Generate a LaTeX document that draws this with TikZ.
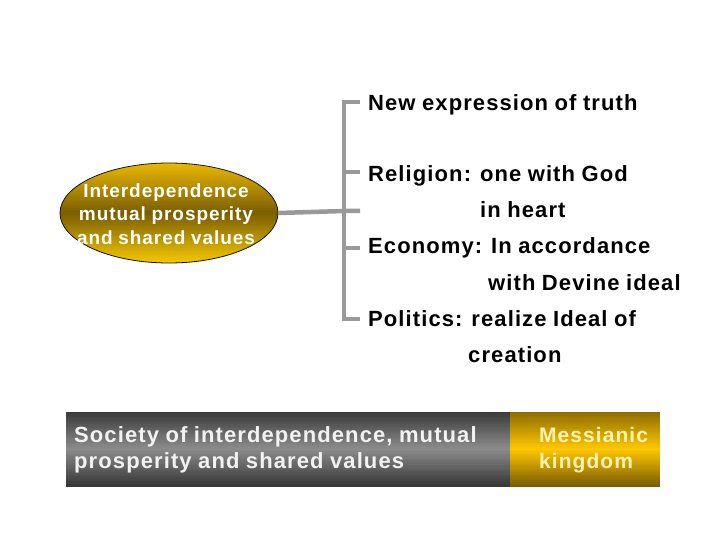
\documentclass[tikz,border=0pt]{standalone}
\usepackage{fontspec}
\setmainfont{Liberation Sans}[LetterSpace=5,WordSpace=0.9]
\usetikzlibrary{shapes.geometric}
\definecolor{conngray}{HTML}{999999}
\definecolor{goldtop}{HTML}{EAB800}
\definecolor{goldmid}{HTML}{7A5E00}
\definecolor{goldbot}{HTML}{F4C800}
\definecolor{bargraytop}{HTML}{3A3A3A}
\definecolor{bargraymid}{HTML}{8C8C8C}
\definecolor{bargraybot}{HTML}{363636}
\definecolor{bargoldtop}{HTML}{8C6C00}
\definecolor{bargoldmid}{HTML}{FFC800}
\definecolor{bargoldbot}{HTML}{7A5C00}
\definecolor{cream}{HTML}{FFF2B0}
\newcommand{\vgradrect}[7]{%
  \foreach \k in {0,...,59}{%
    \pgfmathsetmacro{\ya}{#2+(#4-#2)*\k/60}%
    \pgfmathsetmacro{\yb}{#2+(#4-#2)*(\k+1)/60+0.6}%
    \pgfmathtruncatemacro{\pp}{\k<30 ? 100*(\k+0.5)/30 : 100*(\k+0.5-30)/30}%
    \ifnum\k<30 \colorlet{gtmp}{#6!\pp!#5}\else\colorlet{gtmp}{#7!\pp!#6}\fi
    \fill[gtmp] (#1,\ya) rectangle (#3,\yb);
  }}
\tikzset{
  conn/.style={draw=conngray, line width=4.5pt, line cap=butt},
  itemtxt/.style={anchor=base west, inner sep=0pt, font=\fontsize{22}{26}\selectfont\bfseries, text=black},
  elltxt/.style={anchor=base, inner sep=0pt, font=\fontsize{19}{23}\selectfont\bfseries, text=white},
  bartxt/.style={anchor=base west, inner sep=0pt, font=\fontsize{22}{26}\selectfont\bfseries, text=white!95!black},
  kingtxt/.style={anchor=base west, inner sep=0pt, font=\fontsize{21}{25}\selectfont\bfseries, text=cream},
}
\begin{document}
\begin{tikzpicture}[x=1pt,y=-1pt]
\useasboundingbox (0,0) rectangle (720,540);
% ellipse
\begin{scope}
  \clip (169,213) ellipse [x radius=109, y radius=50];
  \vgradrect{58}{163}{280}{263}{goldtop}{goldmid}{goldbot}
\end{scope}
\node[ellipse, draw=black!80!goldmid, line width=0.8pt, minimum width=218pt, minimum height=100pt, inner sep=0pt] (ell) at (169,213) {};
\node[elltxt] (el1) at (166,197) {Interdependence};
\node[elltxt] (el2) at (166,221) {mutual prosperity};
\node[elltxt] (el3) at (166,244) {and shared values};
% bracket
\coordinate (s1) at (344,102); \coordinate (e1) at (360,102);
\coordinate (s2) at (344,172); \coordinate (e2) at (360,172);
\coordinate (s3) at (344,211); \coordinate (e3) at (360,211);
\coordinate (s4) at (344,248); \coordinate (e4) at (360,248);
\coordinate (s5) at (344,319); \coordinate (e5) at (360,319);
\draw[conn] (e1) -- (s1) -- (s5) -- (e5);
\draw[conn] (s2) -- (e2);
\draw[conn] (s4) -- (e4);
\draw[conn] (ell.east) -- (s3) -- (e3);
% texts
\node[itemtxt] (new) at (368,111) {New expression of truth};
\node[itemtxt] (rel1) at (368,182) {Religion: one with God};
\node[itemtxt] (rel2) at (480,218) {in heart};
\node[itemtxt] (eco1) at (368,254) {Economy: In accordance};
\node[itemtxt] (eco2) at (488,290) {with Devine ideal};
\node[itemtxt] (pol1) at (368,326) {Politics: realize Ideal of};
\node[itemtxt] (pol2) at (468,362) {creation};
% bottom bar
\begin{scope}
  \clip (66,412) rectangle (510,486);
  \vgradrect{66}{412}{510}{486}{bargraytop}{bargraymid}{bargraybot}
\end{scope}
\begin{scope}
  \clip (510,412) rectangle (660,486);
  \vgradrect{510}{412}{660}{486}{bargoldtop}{bargoldmid}{bargoldbot}
\end{scope}
\node[anchor=north west, inner sep=0pt, outer sep=0pt, minimum width=444pt, minimum height=74pt] (soc) at (66,412) {};
\node[anchor=north west, inner sep=0pt, outer sep=0pt, minimum width=150pt, minimum height=74pt] (king) at (soc.north east) {};
\node[bartxt] (soc1) at (74,442) {Society of interdependence, mutual};
\node[bartxt] (soc2) at (74,468) {prosperity and shared values};
\node[kingtxt] (king1) at (539,442) {Messianic};
\node[kingtxt] (king2) at (539,468) {kingdom};
\end{tikzpicture}
\end{document}
